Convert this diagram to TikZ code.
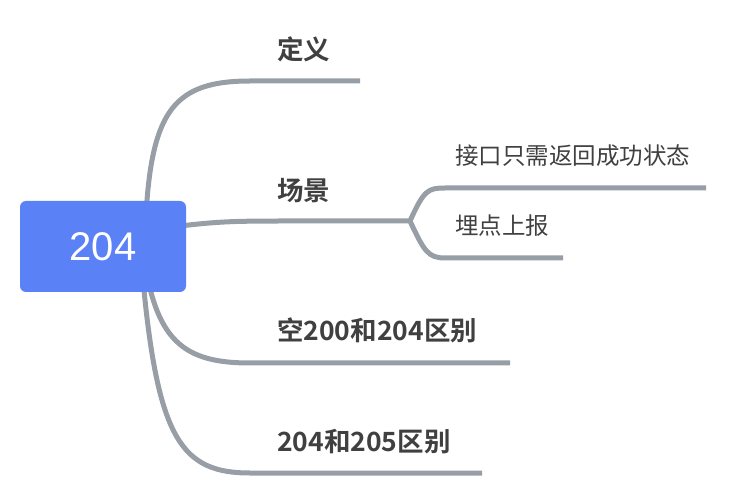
\documentclass[tikz,border=0pt]{standalone}
\usepackage{fontspec}
\newfontfamily\cjk{Noto Sans CJK SC}
\newfontfamily\cjkbold{Noto Sans CJK SC Bold}
\newfontfamily\latin{Liberation Sans}
\usetikzlibrary{positioning}

\begin{document}
\begin{tikzpicture}[x=1pt,y=-1pt,
  rootbox/.style={fill=rootblue,rounded corners=6pt,minimum width=166pt,minimum height=91pt,
    inner sep=0pt,text=white,font=\latin\fontsize{40}{48}\selectfont},
  branchlabel/.style={anchor=west,inner sep=0pt,text=labelgray,font=\cjkbold\fontsize{26.5}{30}\selectfont},
  leaflabel/.style={anchor=west,inner sep=0pt,text=labelgray,font=\cjk\fontsize{23.5}{28}\selectfont},
  branchline/.style={draw=linegray,line width=5pt,line cap=butt}]
\definecolor{rootblue}{RGB}{90,130,246}
\definecolor{linegray}{RGB}{151,158,165}
\definecolor{labelgray}{RGB}{64,64,64}
\useasboundingbox (0,0) rectangle (729,497);

% branch end points
\coordinate (DefStart) at (146,215);
\coordinate (DefBend) at (250,81);
\coordinate (DefEnd) at (360,81);
\coordinate (SceneStart) at (180,226);
\coordinate (Fork) at (410,221);
\coordinate (ApiBend) at (445,188);
\coordinate (ApiEnd) at (706,188);
\coordinate (TrackBend) at (445,258);
\coordinate (TrackEnd) at (563,258);
\coordinate (EmptyStart) at (148,280);
\coordinate (EmptyBend) at (250,363);
\coordinate (EmptyEnd) at (510,363);
\coordinate (DiffStart) at (143,280);
\coordinate (DiffBend) at (250,473);
\coordinate (DiffEnd) at (482,473);

\draw[branchline] (DefStart) .. controls (152,110) and (175,81) .. (DefBend) -- (DefEnd);
\draw[branchline] (SceneStart) .. controls (215,222) and (230,221) .. (280,221) -- (Fork);
\draw[branchline] (Fork) .. controls (424,190) and (428,188) .. (ApiBend) -- (ApiEnd);
\draw[branchline] (Fork) .. controls (424,251) and (428,258) .. (TrackBend) -- (TrackEnd);
\draw[branchline] (EmptyStart) .. controls (162,345) and (190,363) .. (EmptyBend) -- (EmptyEnd);
\draw[branchline] (DiffStart) .. controls (158,440) and (182,473) .. (DiffBend) -- (DiffEnd);

\node[rootbox] (Root) at (103,246.5) {204};

\node[branchlabel] (Def) at (277,49) {定义};
\node[branchlabel] (Scene) at (277,191) {场景};
\node[branchlabel] (Empty) at (277,330) {空200和204区别};
\node[branchlabel] (Diff) at (277,442) {204和205区别};
\node[leaflabel] (Api) at (455,156) {接口只需返回成功状态};
\node[leaflabel] (Track) at (455,226) {埋点上报};
\end{tikzpicture}
\end{document}
